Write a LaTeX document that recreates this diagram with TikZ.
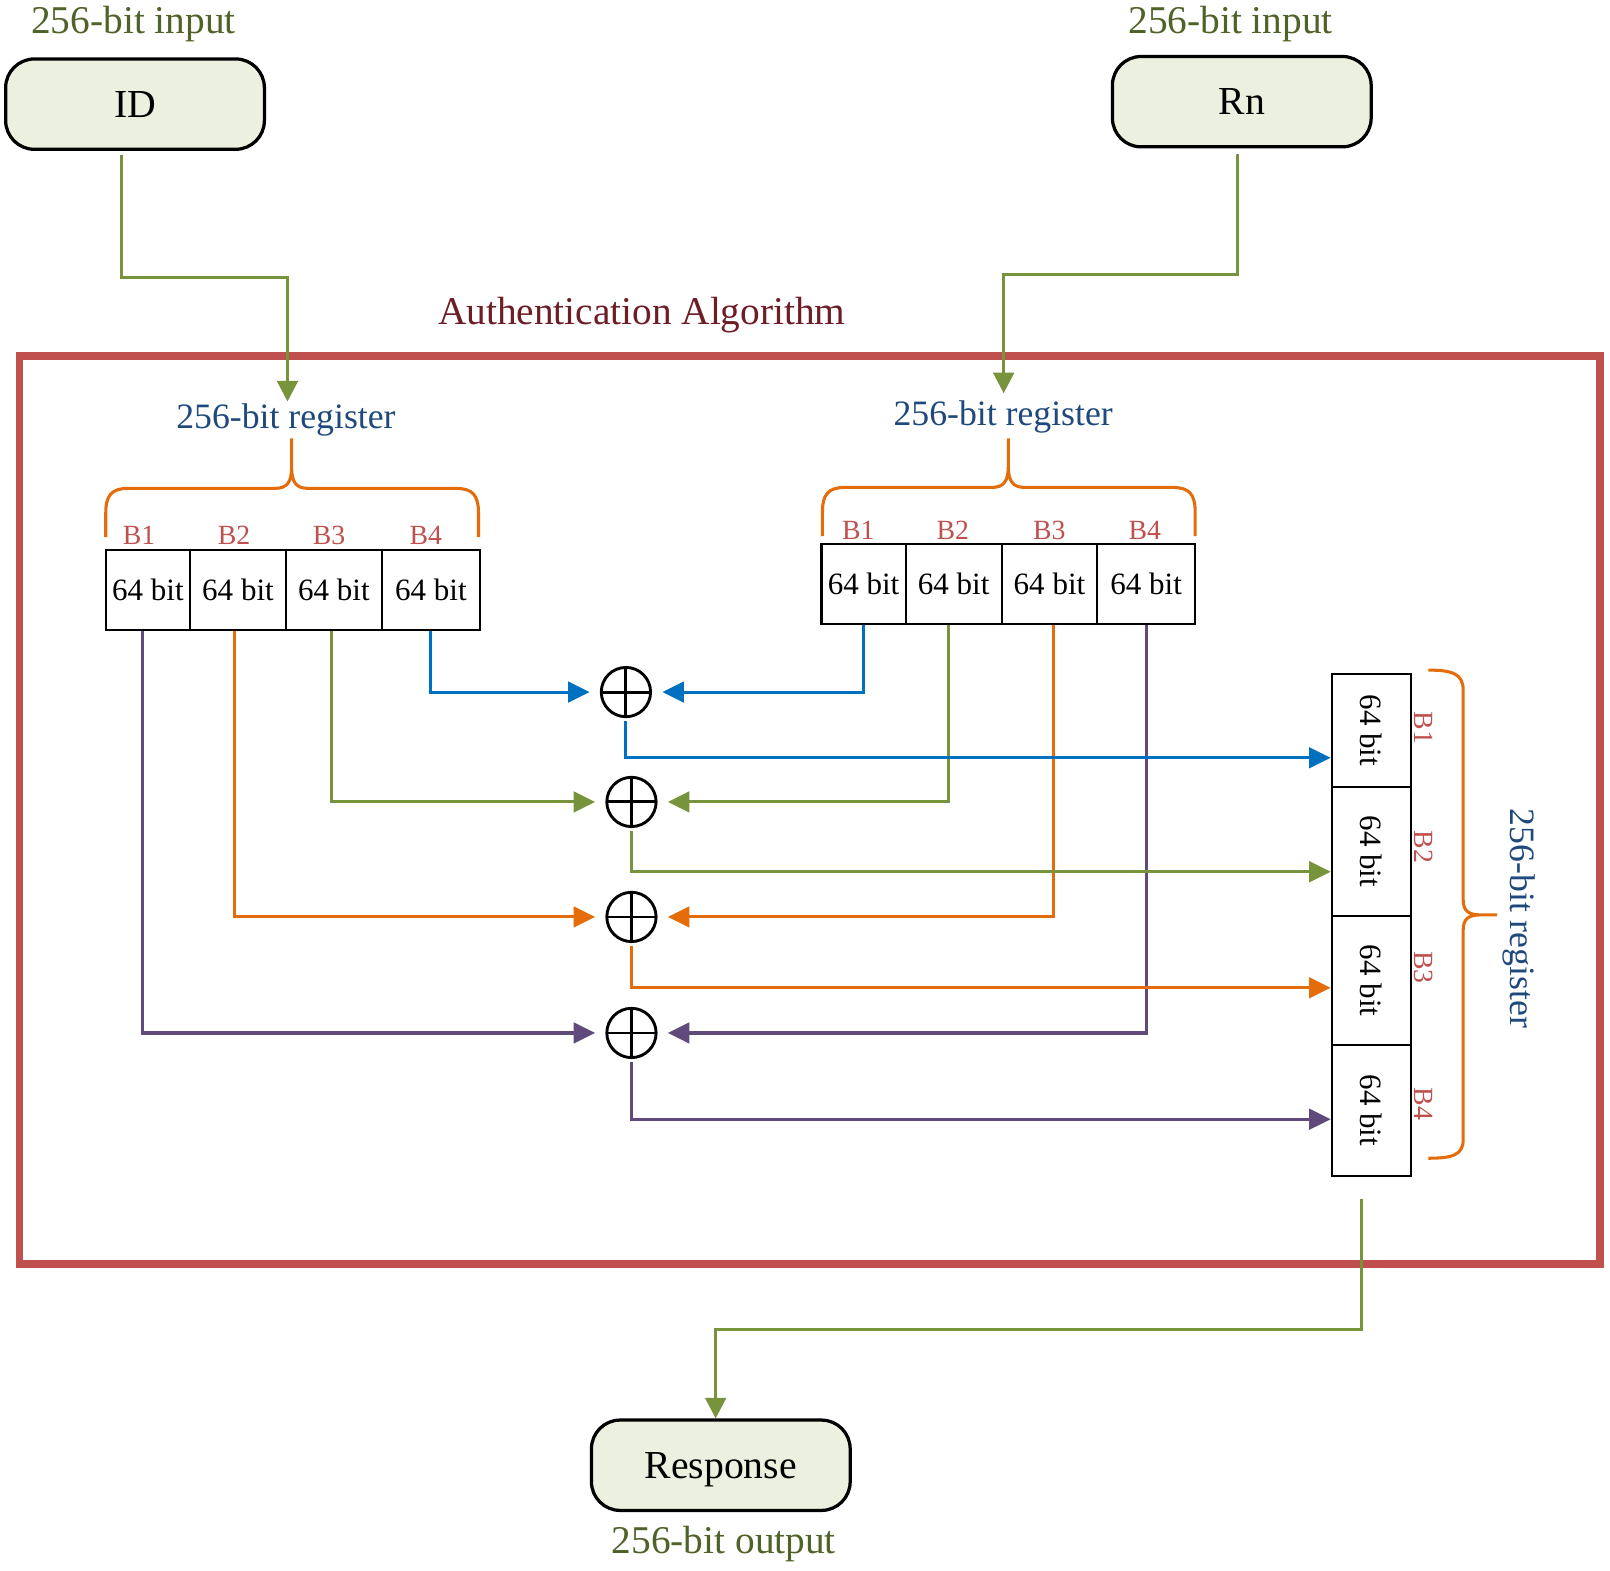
\documentclass[tikz,border=0pt]{standalone}
\usepackage{fontspec}
\setmainfont{Liberation Serif}
\usepackage{graphicx}
\usetikzlibrary{arrows.meta}
\definecolor{txtgreen}{RGB}{79,98,40}
\definecolor{lngreen}{RGB}{119,147,60}
\definecolor{boxfill}{RGB}{235,241,222}
\definecolor{titlered}{RGB}{110,28,38}
\definecolor{framered}{RGB}{192,80,77}
\definecolor{regblue}{RGB}{31,73,125}
\definecolor{blabel}{RGB}{192,80,77}
\definecolor{corange}{RGB}{228,108,10}
\definecolor{cblue}{RGB}{0,112,192}
\definecolor{cpurple}{RGB}{96,74,123}
\begin{document}
\begin{tikzpicture}[x=0.1mm,y=-0.1mm,
  iobox/.style={draw=black, line width=0.9pt, fill=boxfill, rounded corners=2.8mm,
    minimum width=25.2mm, minimum height=8.8mm, inner sep=0pt, font=\fontsize{11}{13}\selectfont},
  lab/.style={anchor=base, inner sep=0pt, font=\fontsize{10.9}{13}\selectfont},
  reglab/.style={anchor=base, inner sep=0pt, text=regblue, font=\fontsize{9.9}{12}\selectfont},
  blab/.style={anchor=base, inner sep=0pt, text=blabel, font=\fontsize{7.7}{9}\selectfont},
  cell/.style={draw=black, line width=0.6pt, inner sep=0pt, font=\fontsize{8.6}{10}\selectfont},
  xor/.style={circle, draw=black, line width=0.8pt, minimum size=4.8mm, inner sep=0pt,
    path picture={\draw[line width=0.8pt] (path picture bounding box.north) -- (path picture bounding box.south)
      (path picture bounding box.west) -- (path picture bounding box.east);}},
  feed/.style={line width=0.9pt, draw=lngreen, -{Triangle[length=2mm,width=2mm]}},
  flow/.style={line width=0.85pt, -{Triangle[length=2.1mm,width=2mm]}},
  brace/.style={draw=corange, line width=0.85pt},
]
\useasboundingbox (0,0) rectangle (1568,1530);

% outer frame
\draw[framered, line width=0.75mm] (19,347) rectangle (1558,1231);
\node[lab, text=titlered] (title) at (625,316) {Authentication Algorithm};

% inputs / output
\node[lab, text=txtgreen] (inIDlab) at (130,32.5) {256-bit input};
\node[lab, text=txtgreen] (inRnlab) at (1198.5,32.5) {256-bit input};
\node[iobox] (ID) at (131.5,101.4) {ID};
\node[iobox] (Rn) at (1209.4,99) {Rn};
\node[iobox, text depth=0pt] (Resp) at (702,1427) {Response};
\node[lab, text=txtgreen] (outlab) at (705,1513) {256-bit output};

% left register
\node[reglab] (regLlab) at (278.5,417) {256-bit register};
\node[cell, minimum width=8.2mm, minimum height=7.76mm] (L1) at (144,574.8) {64 bit};
\node[cell, minimum width=9.36mm, minimum height=7.76mm] (L2) at (231.8,574.8) {64 bit};
\node[cell, minimum width=9.32mm, minimum height=7.76mm] (L3) at (325.2,574.8) {64 bit};
\node[cell, minimum width=9.57mm, minimum height=7.76mm] (L4) at (419.7,574.8) {64 bit};
\node[blab] (lb1) at (135.5,530) {B1};
\node[blab] (lb2) at (228,530) {B2};
\node[blab] (lb3) at (320.5,530) {B3};
\node[blab] (lb4) at (414.7,530) {B4};
\draw[brace] (103,523) -- (103,500) .. controls (103,483) and (108,475.6) .. (125,475.6) -- (268,475.6)
  .. controls (280,475.6) and (284,469) .. (284,455) -- (284,427) -- (284,455)
  .. controls (284,469) and (288,475.6) .. (300,475.6) -- (444,475.6)
  .. controls (461,475.6) and (466,483) .. (466,500) -- (466,523);

% right top register
\node[reglab] (regRlab) at (977,414) {256-bit register};
\node[cell, minimum width=8.2mm, minimum height=7.8mm] (R1) at (841,569) {64 bit};
\node[cell, minimum width=9.36mm, minimum height=7.8mm] (R2) at (928.8,569) {64 bit};
\node[cell, minimum width=9.3mm, minimum height=7.8mm] (R3) at (1022.1,569) {64 bit};
\node[cell, minimum width=9.54mm, minimum height=7.8mm] (R4) at (1116.3,569) {64 bit};
\node[blab] (rb1) at (836,525) {B1};
\node[blab] (rb2) at (928,525) {B2};
\node[blab] (rb3) at (1022,525) {B3};
\node[blab] (rb4) at (1115,525) {B4};
\draw[brace] (801,522) -- (801,499) .. controls (801,482) and (806,474.7) .. (823,474.7) -- (966,474.7)
  .. controls (978,474.7) and (982,468) .. (982,454) -- (982,427) -- (982,454)
  .. controls (982,468) and (986,474.7) .. (998,474.7) -- (1142,474.7)
  .. controls (1159,474.7) and (1164,482) .. (1164,499) -- (1164,522);

% right vertical register
\node[cell, minimum width=7.75mm, minimum height=11.05mm] (V1) at (1335.8,711.25) {\rotatebox{-90}{64 bit}};
\node[cell, minimum width=7.75mm, minimum height=12.55mm] (V2) at (1335.8,829.25) {\rotatebox{-90}{64 bit}};
\node[cell, minimum width=7.75mm, minimum height=12.6mm] (V3) at (1335.8,955) {\rotatebox{-90}{64 bit}};
\node[cell, minimum width=7.75mm, minimum height=12.7mm] (V4) at (1335.8,1081.5) {\rotatebox{-90}{64 bit}};
\node[blab, rotate=-90] (vb1) at (1378,709) {B1};
\node[blab, rotate=-90] (vb2) at (1378,825) {B2};
\node[blab, rotate=-90] (vb3) at (1378,942) {B3};
\node[blab, rotate=-90] (vb4) at (1378,1075) {B4};
\node[reglab, rotate=-90] (regVlab) at (1471,894.5) {256-bit register};
\draw[brace] (1391,652.6) .. controls (1414,652.6) and (1425,656) .. (1425,672) -- (1425,876)
  .. controls (1425,887) and (1430,891) .. (1442,891) -- (1458,891) -- (1442,891)
  .. controls (1430,891) and (1425,895) .. (1425,906) -- (1425,1110)
  .. controls (1425,1125) and (1414,1128) .. (1391,1128);

% XOR gates
\node[xor] (X1) at (609.6,674) {};
\node[xor] (X2) at (615,781) {};
\node[xor] (X3) at (615,893) {};
\node[xor] (X4) at (615,1006) {};

% level coordinates for outputs
\coordinate (h1) at (0,738);
\coordinate (h2) at (0,849);
\coordinate (h3) at (0,962);
\coordinate (h4) at (0,1090);

% inputs into XOR gates
\draw[flow, cblue, shorten >=1mm] (L4.south) |- (X1.west);
\draw[flow, cblue, shorten >=1mm] (R1.south) |- (X1.east);
\draw[flow, lngreen, shorten >=1mm] ([xshift=-0.2mm]L3.south) |- (X2.west);
\draw[flow, lngreen, shorten >=1mm] ([xshift=-0.5mm]R2.south) |- (X2.east);
\draw[flow, corange, shorten >=1mm] ([xshift=-0.3mm]L2.south) |- (X3.west);
\draw[flow, corange, shorten >=1mm] ([xshift=0.4mm]R3.south) |- (X3.east);
\draw[flow, cpurple, shorten >=1mm] ([xshift=-0.5mm]L1.south) |- (X4.west);
\draw[flow, cpurple, shorten >=1mm] (R4.south) |- (X4.east);

% outputs into vertical register
\draw[flow, cblue, shorten <=0.3mm] (X1.south) |- (V1.west |- h1);
\draw[flow, lngreen, shorten <=0.3mm] (X2.south) |- (V2.west |- h2);
\draw[flow, corange, shorten <=0.3mm] (X3.south) |- (V3.west |- h3);
\draw[flow, cpurple, shorten <=0.3mm] (X4.south) |- (V4.west |- h4);

% feeds
\coordinate (inL) at (280,391);
\coordinate (inR) at (977.5,383);
\draw[feed] ([xshift=-1.35mm,yshift=-0.35mm]ID.south) -- ++(0,120) -| (inL);
\draw[feed] ([xshift=-0.4mm,yshift=-0.5mm]Rn.south) -- ++(0,118) -| (inR);
\draw[feed] ([xshift=-0.98mm,yshift=-2.2mm]V4.south) -- ++(0,127) -| ([xshift=-0.5mm]Resp.north);
\end{tikzpicture}
\end{document}
